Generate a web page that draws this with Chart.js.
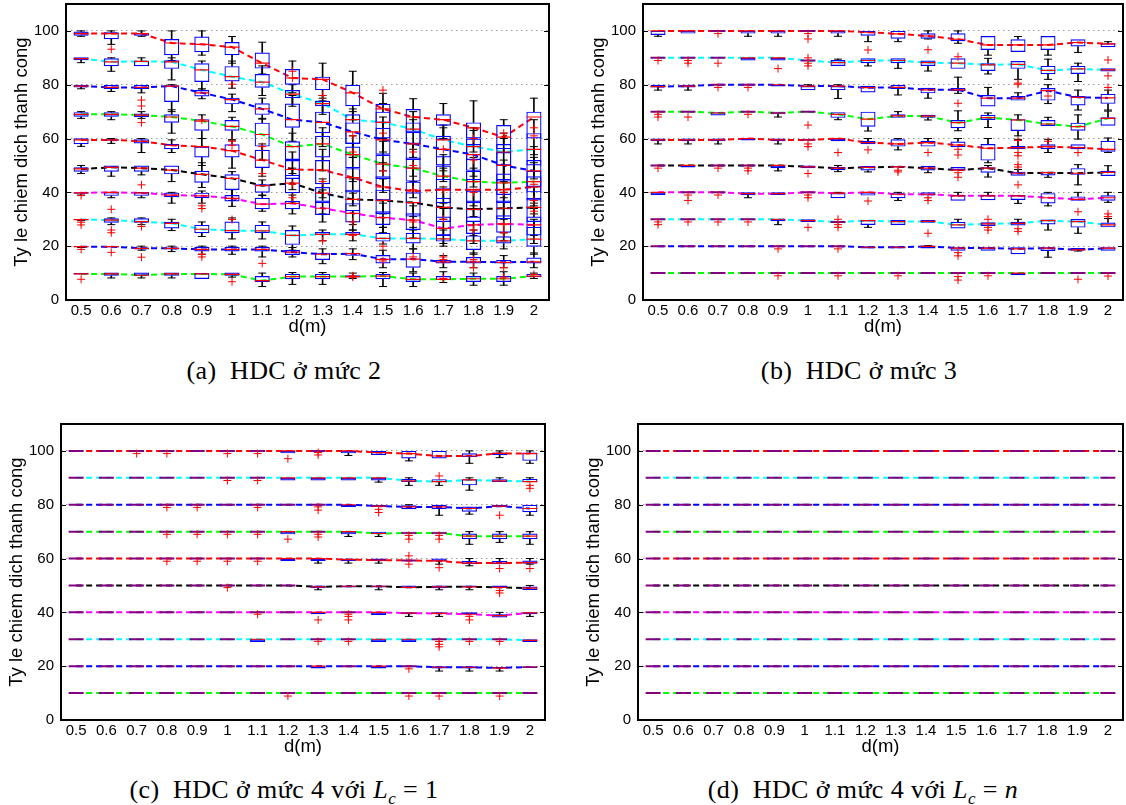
<!DOCTYPE html>
<html>
<head>
<meta charset="utf-8">
<script src="https://cdn.jsdelivr.net/npm/chart.js@4.4.0/dist/chart.umd.min.js"></script>
<style>
  body { margin: 0; background: #fff; width: 1126px; height: 805px; position: relative; overflow: hidden; }
  .panel { position: absolute; }
  .cap { position: absolute; width: 560px; text-align: center; font-family: "Liberation Serif", "DejaVu Serif", serif; font-size: 26px; letter-spacing: 0.4px; color: #000; }
  .cap sub { font-size: 17px; }
</style>
</head>
<body>
<div class="panel" style="left:0px;top:0px"><canvas id="chartA" width="552" height="340"></canvas></div>
<div class="panel" style="left:577px;top:0px"><canvas id="chartB" width="549" height="340"></canvas></div>
<div class="panel" style="left:0px;top:420px"><canvas id="chartC" width="548" height="340"></canvas></div>
<div class="panel" style="left:577px;top:420px"><canvas id="chartD" width="549" height="340"></canvas></div>
<div class="cap" style="left:4px;top:356px">(a)&ensp;HDC ở mức 2</div>
<div class="cap" style="left:579px;top:356px">(b)&ensp;HDC ở mức 3</div>
<div class="cap" style="left:4px;top:775px">(c)&ensp;HDC ở mức 4 với <i>L<sub>c</sub></i> = 1</div>
<div class="cap" style="left:583px;top:775px">(d)&ensp;HDC ở mức 4 với <i>L<sub>c</sub></i> = <i>n</i></div>
<script>
// x categories (distance d in metres) and the target levels of each row of boxes
const dLabels = ['0.5', '0.6', '0.7', '0.8', '0.9', '1', '1.1', '1.2', '1.3', '1.4', '1.5', '1.6', '1.7', '1.8', '1.9', '2'];
const levels = [100, 90, 80, 70, 60, 50, 40, 30, 20, 10];
const lineColors = ['#ff0000', '#00ffff', '#0000ff', '#00ff00', '#ff0000', '#000000', '#ff00ff', '#00ffff', '#0000ff', '#00ff00'];
const yTicks = [0, 20, 40, 60, 80, 100];

// Panel (a): HDC level 2, one row per level, one value per d
const medA = [
  [99, 99, 99, 95.5, 95, 94, 88, 82.5, 82, 77, 71, 68, 67, 64, 60.5, 68],
  [89.7, 88.5, 88.7, 88.5, 85.5, 83, 81, 76.5, 73, 67, 66, 63.5, 59.5, 57, 55, 56],
  [79.5, 79, 79, 79.5, 77, 74.5, 71, 67, 66, 62.5, 59.5, 58, 56, 54, 50, 48],
  [69, 69, 68.7, 68, 66.5, 64.5, 61.5, 57, 58, 54, 50.5, 49, 46, 44, 43.5, 44],
  [59.5, 59.5, 59, 57.5, 57, 55.5, 52, 48.5, 48.3, 45.5, 42, 40.5, 41, 41, 41, 42],
  [48.7, 49.3, 49, 48.3, 46.7, 45.2, 42.5, 43.4, 39.7, 37.4, 37, 36.2, 34.4, 33.7, 34.1, 34.4],
  [39.8, 40, 39.8, 39, 38.7, 37.8, 35.6, 35.9, 34.1, 32.2, 30.6, 29.7, 26.6, 27.9, 28.3, 27.9],
  [29.9, 29.7, 29.1, 28.5, 26.3, 25.8, 25.7, 24, 24.4, 24.4, 22.9, 22.9, 22.7, 22, 22, 22.6],
  [19.8, 19.8, 19.2, 19.2, 18.8, 18.8, 18.8, 17.8, 17, 17.2, 15.1, 15.2, 14.2, 14.2, 14, 14.2],
  [9.7, 9.7, 9.2, 9.7, 9.7, 9.5, 7.2, 8.7, 8.7, 8.7, 8.9, 7.7, 7.7, 7.9, 7.9, 8.9]
];
const q1A = [
  [98.2, 96.9, 98.2, 91, 92.1, 91, 86, 80, 78, 72, 65.8, 62, 64.8, 60, 56, 60],
  [89.1, 86.9, 86.9, 85.9, 81, 81.2, 78.9, 75, 72, 58, 60, 58, 53, 52, 50, 50],
  [79, 78.4, 78.4, 73.6, 75.6, 72.7, 68.8, 64, 62, 58, 54, 52, 50, 48, 44, 42],
  [68.1, 68.1, 68, 65.9, 62.9, 62.9, 57, 52, 53, 49, 45, 44, 41, 40, 39, 40],
  [57.9, 59.2, 58.2, 56, 53, 53, 49.1, 45, 43, 40, 37, 36, 36, 36, 36, 37],
  [47.7, 47.7, 47.7, 46.7, 43.6, 40.9, 39.9, 39.7, 36, 33, 32, 31, 29, 29, 30, 29],
  [39.5, 38.7, 38.7, 38.2, 37.8, 36.6, 33.7, 33.7, 31.6, 28.8, 27.9, 26, 24, 24.5, 25, 24],
  [29.6, 28.7, 28.7, 26.6, 24.8, 24.8, 24.8, 20.5, 24.2, 24.2, 21.7, 21, 21.7, 18.6, 21, 19.8],
  [19.6, 19.5, 18.8, 18.8, 18, 18, 18, 16.7, 14.9, 16.4, 13.6, 12, 13.6, 13.6, 13.6, 13.6],
  [9.5, 9, 9, 9, 7.8, 9, 6.7, 7.7, 7.7, 8.4, 7.7, 6.7, 7.4, 6.7, 6.7, 8.5]
];
const q3A = [
  [99.8, 99.5, 99.3, 97, 97.9, 95.9, 92, 85.8, 83, 80, 72.9, 71, 69, 66, 65, 70],
  [90.2, 89.8, 88.9, 89.1, 88, 86.9, 84, 78, 74, 69, 70, 66, 61, 60, 58, 62],
  [80, 80, 80, 79.8, 78, 75.2, 73.1, 73, 70, 66, 64, 63, 60, 58, 55, 52],
  [69.8, 69.8, 69.3, 69, 67.2, 66.9, 65.9, 59, 61, 57, 54, 53, 50, 48, 47, 48],
  [60.1, 59.7, 59.7, 58, 57, 57.9, 55.8, 52, 52, 49, 46, 44, 45, 45, 45, 46],
  [49.3, 50, 50, 50, 48, 46.7, 43, 46.5, 42, 41, 41, 40, 38, 37, 37, 38],
  [40, 40.1, 40.1, 39.9, 39.9, 39, 38, 36.9, 37, 36, 33, 32.2, 31, 31, 31.5, 31],
  [30, 30.4, 30.4, 29.1, 27.9, 29.2, 27.9, 26, 25.3, 25.3, 25, 25, 24.2, 24, 23.7, 27.2],
  [20, 20, 19.5, 19.5, 19.8, 19.8, 19.8, 18.6, 17.6, 17.6, 16.7, 17.6, 14.9, 16, 14.9, 15.8],
  [10, 10.2, 10.2, 10.2, 10, 10.2, 8.9, 9.7, 9.7, 9.2, 9.7, 8.9, 8.9, 8.9, 8.9, 9.7]
];
const loA = [
  [98, 95, 98, 89, 91, 88, 84, 77, 75, 67, 60, 56, 60, 55, 50, 54],
  [88.2, 85, 86.9, 81.8, 78, 78.7, 76, 72, 69, 54, 55, 53, 48, 46, 44, 45],
  [78.5, 77.5, 77, 70, 74.8, 70, 67.2, 59, 57, 53, 48, 46, 44, 42, 38, 36],
  [67.5, 67, 67.5, 62, 60, 59.5, 52, 47, 48, 44, 40, 38, 36, 35, 34, 35],
  [57.1, 58.2, 54.8, 54.8, 50, 49, 46, 41, 38, 35, 32, 31, 30, 31, 30, 32],
  [47, 46, 46.5, 44, 41.8, 37, 38.8, 36, 32, 28, 27, 26, 24, 24, 25, 24],
  [39, 38, 38, 36, 36, 34.8, 33, 32, 29, 26, 25, 23, 21, 21, 22, 21],
  [29.5, 28, 28, 25.8, 23.6, 22.7, 22.7, 18.5, 22, 22, 20.8, 19, 20, 17, 19, 17],
  [19.5, 19.5, 18.5, 18, 17, 17, 16, 16, 13.5, 15, 12, 10.5, 12, 12, 12, 12],
  [9.5, 8.2, 8.2, 8.2, 7.8, 8.5, 5, 5.8, 5.8, 8, 5, 5, 6.5, 5.5, 5.5, 8]
];
const hiA = [
  [100, 100, 100, 100, 100, 97.9, 95.8, 88.8, 88, 85, 76.8, 74.8, 73, 74, 67, 75],
  [90.2, 90, 90, 90, 88.8, 88.8, 87, 80, 76, 71, 73, 70, 64, 63, 62, 67],
  [80, 80, 80, 80, 78.5, 76.5, 75, 76, 74, 70, 68, 67, 65, 64, 60, 57],
  [70, 70, 70, 70.7, 68.8, 67.9, 67.5, 62, 64, 61, 59, 58, 54, 53, 52, 53],
  [60, 60, 60, 59.5, 60, 59.5, 58, 55, 56, 53, 51, 49, 49, 49, 50, 51],
  [50, 50, 50, 50, 51, 47.7, 44.6, 49, 45, 45, 45, 44, 42, 41, 40, 42],
  [40, 40, 40, 40, 40.5, 41, 39, 39, 40.9, 39.7, 36, 35, 34, 34, 34, 34],
  [30, 30.5, 30.5, 30, 29, 30.5, 29, 27.5, 26, 26, 27, 27, 26, 26, 25, 30],
  [20, 20, 20, 20, 20, 20, 20, 19.5, 19, 19, 18.5, 19, 16.5, 17.5, 16.5, 17.5],
  [10, 10.2, 10.2, 10.2, 10, 10.2, 10, 10.2, 10.2, 10, 10.2, 10, 10.5, 10, 10.5, 10]
];
const outA = [
  ['0.5', 38.8], ['0.5', 28.9], ['0.5', 27.9], ['0.5', 18.8], ['0.5', 7.7],
  ['0.6', 93.2], ['0.6', 33.7], ['0.6', 26], ['0.6', 25], ['0.6', 17.7],
  ['0.7', 74.3], ['0.7', 72.1], ['0.7', 65.9], ['0.7', 42.8], ['0.7', 27.3], ['0.7', 15.9],
  ['0.9', 66.9], ['0.9', 35], ['0.9', 34], ['0.9', 17], ['0.9', 16],
  ['1', 80.2], ['1', 59], ['1', 57.5], ['1', 29.9], ['1', 6.8],
  ['1.1', 57], ['1.1', 47], ['1.1', 13.6],
  ['1.2', 85], ['1.2', 82.5], ['1.2', 43], ['1.2', 38],
  ['1.3', 76], ['1.3', 44], ['1.3', 22],
  ['1.4', 61], ['1.4', 55], ['1.4', 29], ['1.4', 24], ['1.4', 9], ['1.4', 8.5],
  ['1.5', 78], ['1.5', 62], ['1.5', 48], ['1.5', 20], ['1.5', 14.5],
  ['1.6', 55], ['1.6', 50], ['1.6', 41], ['1.6', 29], ['1.6', 16],
  ['1.7', 56], ['1.7', 41], ['1.7', 30], ['1.7', 16], ['1.7', 15], ['1.7', 8],
  ['1.8', 60], ['1.8', 52], ['1.8', 40], ['1.8', 26], ['1.8', 15], ['1.8', 12],
  ['1.9', 62], ['1.9', 40], ['1.9', 28], ['1.9', 25], ['1.9', 12], ['1.9', 8.5],
  ['2', 64], ['2', 61], ['2', 43], ['2', 37], ['2', 33], ['2', 9.5]
];

// Panel (b): HDC level 3. Rows: [level, d, lower whisker, q1, median, q3, upper whisker]
// boxes not listed sit exactly on their level
const boxesB = [
  [100, '0.5', 98, 98.5, 100, 100, 100], [100, '0.6', 99, 99, 100, 100, 100], [100, '0.8', 98, 99, 100, 100, 100],
  [100, '0.9', 98, 99, 100, 100, 100], [100, '1.1', 98, 99, 100, 100, 100], [100, '1.2', 96, 98.2, 99.5, 100, 100],
  [100, '1.3', 96, 97.1, 98.9, 100, 100], [100, '1.4', 97, 97.1, 98.1, 99.1, 100], [100, '1.5', 95.4, 96.2, 96.9, 99.1, 100],
  [100, '1.6', 91, 92.9, 94.8, 98.1, 98.1], [100, '1.7', 92.2, 92.2, 94.8, 96.9, 97.9], [100, '1.8', 91, 92.9, 94.8, 98.1, 98.1],
  [100, '1.9', 92, 94.2, 95.7, 96.9, 96.9], [100, '2', 93.9, 93.9, 95.2, 95.4, 96],
  [90, '0.8', 89, 89, 90, 90, 90], [90, '0.9', 89, 89, 90, 90, 90], [90, '1', 89, 89, 89, 89, 89],
  [90, '1.1', 87, 87, 88.2, 89.2, 89.5], [90, '1.2', 87, 88, 89, 89.8, 89.8], [90, '1.3', 86.1, 88, 89, 89.8, 89.8],
  [90, '1.4', 85.1, 87, 88.2, 89, 89], [90, '1.5', 85.9, 85.9, 88, 89.8, 89.8], [90, '1.6', 84, 85.1, 87.4, 88, 89.8],
  [90, '1.7', 82, 85.9, 87.6, 88.8, 88.8], [90, '1.8', 82, 83.9, 85.3, 87, 89.5], [90, '1.9', 81.2, 84, 85.9, 87, 88],
  [90, '2', 84.9, 84.9, 85.5, 86.1, 86.1],
  [80, '0.5', 78, 79, 79.3, 80, 80], [80, '0.6', 78, 79, 79.5, 80, 80], [80, '0.9', 79.3, 79.3, 80, 80, 80],
  [80, '1', 78, 78, 79.5, 79.5, 80], [80, '1.1', 74.9, 78, 79.5, 79.5, 80], [80, '1.2', 77.1, 77.1, 78.9, 79.6, 79.6],
  [80, '1.3', 76.2, 78.4, 79, 80, 80], [80, '1.4', 75, 76.8, 78.1, 78.9, 78.9], [80, '1.5', 76.8, 77.6, 78.1, 78.8, 82.8],
  [80, '1.6', 71.9, 71.9, 75, 76.2, 79], [80, '1.7', 74.1, 74.1, 75, 75.8, 77], [80, '1.8', 73, 74.1, 77.8, 78.8, 80],
  [80, '1.9', 70.6, 72.3, 75.3, 75.8, 78], [80, '2', 70.6, 72.9, 75.1, 76.6, 78],
  [70, '0.7', 68.6, 68.6, 69.5, 69.8, 69.8], [70, '0.9', 68, 69, 69.5, 70, 70], [70, '1.1', 67, 67.7, 69, 69.8, 69.8],
  [70, '1.2', 62.8, 64.4, 67.2, 70, 70], [70, '1.3', 67.7, 67.7, 68.4, 69, 70], [70, '1.4', 66.9, 67.7, 68.3, 68.8, 68.8],
  [70, '1.5', 62.9, 63.8, 65.9, 66.9, 70.3], [70, '1.6', 64.1, 66.9, 67.8, 68.8, 69.5], [70, '1.7', 61, 62.8, 66.9, 67.2, 68.8],
  [70, '1.8', 64.7, 64.7, 65.4, 66.9, 67.9], [70, '1.9', 59.8, 62.9, 64.4, 65.9, 68.8], [70, '2', 64.8, 64.8, 67.5, 67.9, 70.2],
  [60, '0.5', 58, 59, 59.5, 60, 60], [60, '0.6', 58, 59, 59.5, 60, 60], [60, '0.7', 58, 59, 59.5, 60, 60],
  [60, '0.8', 59.3, 59.3, 60, 60, 60], [60, '0.9', 58, 59, 59.5, 60, 60], [60, '1', 59.2, 59.2, 59.5, 59.9, 59.9],
  [60, '1.1', 59, 59, 60, 60, 60], [60, '1.2', 57.9, 57.9, 58.5, 59.2, 60], [60, '1.3', 55.8, 57, 58, 59.7, 60],
  [60, '1.4', 57, 57, 58.5, 59.2, 60], [60, '1.5', 56.8, 56.8, 57.6, 58.9, 60], [60, '1.6', 51, 51.8, 56.4, 58, 60],
  [60, '1.7', 56, 56, 56.6, 57.2, 59.7], [60, '1.8', 54.8, 56, 57, 57.9, 59.7], [60, '1.9', 56, 56, 56.6, 57.9, 57.9],
  [60, '2', 54.8, 55.1, 56, 59.2, 60.2],
  [50, '0.6', 49.2, 49.2, 50, 50, 50], [50, '0.9', 48, 49, 50, 50, 50], [50, '1', 49, 49, 49.5, 50, 50],
  [50, '1.1', 47.7, 48.2, 49, 49.4, 50], [50, '1.2', 47.6, 48.1, 49.3, 49.8, 49.8], [50, '1.3', 49.2, 49.2, 49.5, 49.8, 49.8],
  [50, '1.4', 47.3, 48.1, 49, 49.9, 49.9], [50, '1.5', 48.2, 48.2, 48.3, 49.4, 49.4], [50, '1.6', 45.7, 47.3, 49, 49.3, 50],
  [50, '1.7', 46.2, 46.2, 47.1, 47.7, 48.5], [50, '1.8', 45.6, 46.3, 47.3, 47.7, 47.7], [50, '1.9', 42.8, 46.5, 47.1, 49, 50.3],
  [50, '2', 46.1, 46.1, 47.4, 48, 49.9],
  [40, '0.5', 39, 39, 40, 40, 40], [40, '0.8', 38, 39, 39.5, 40, 40], [40, '0.9', 39, 39, 39.5, 40, 40],
  [40, '1.1', 37.8, 37.8, 39.7, 39.7, 40], [40, '1.2', 38.8, 38.8, 40, 40, 40], [40, '1.3', 37, 37.8, 39.3, 39.7, 40],
  [40, '1.4', 38.8, 38.8, 39.3, 40, 40], [40, '1.5', 36.9, 36.9, 38.7, 39, 40], [40, '1.6', 37.1, 37.1, 38.7, 39, 40],
  [40, '1.7', 35.9, 37.2, 38.7, 39, 39], [40, '1.8', 35, 35.9, 38, 39.7, 40], [40, '1.9', 36.9, 36.9, 37.4, 38.5, 40],
  [40, '2', 36.3, 36.9, 38, 38.9, 40],
  [30, '0.9', 28, 29.3, 30, 30, 30], [30, '1', 29, 29, 29.5, 30, 30], [30, '1.1', 29, 29, 29, 29, 29],
  [30, '1.2', 27, 27.9, 29.5, 29.7, 29.7], [30, '1.3', 27.9, 27.9, 29.1, 29.7, 29.7], [30, '1.4', 28.7, 28.7, 29.2, 29.7, 29.7],
  [30, '1.5', 26.6, 26.6, 27.9, 29.1, 30], [30, '1.6', 27.5, 27.5, 28.3, 28.9, 28.9], [30, '1.7', 27.7, 27.7, 28.5, 29.1, 30],
  [30, '1.8', 26, 28.1, 29.5, 29.9, 29.9], [30, '1.9', 24.8, 26.9, 29.1, 30.1, 30.1], [30, '2', 27, 27, 27.9, 28.8, 30.3],
  [20, '1.2', 19.1, 19.1, 19.6, 20, 20], [20, '1.3', 19.1, 19.1, 19.6, 20, 20], [20, '1.4', 19.1, 19.1, 19.9, 20, 20.2],
  [20, '1.5', 18.3, 18.3, 19.3, 19.6, 19.6], [20, '1.6', 18.3, 18.3, 19.3, 19.6, 19.6], [20, '1.7', 17, 17, 19, 19.6, 19.6],
  [20, '1.8', 15.9, 18.2, 19.3, 19.6, 19.6], [20, '1.9', 18.2, 18.6, 18.6, 19.3, 19.3], [20, '2', 18.3, 18.3, 19.3, 19.6, 19.6],
  [10, '1.7', 9.2, 9.2, 10, 10, 10]
];
const outB = [
  ['0.7', 99], ['1', 99], ['1', 97], ['1.2', 92.9], ['1.4', 93],
  ['0.5', 89], ['0.6', 89], ['0.6', 88], ['0.7', 88], ['0.9', 86], ['1', 90], ['1', 88], ['1', 87], ['1.5', 90.4], ['1.7', 80.2], ['2', 89.2], ['2', 83.3],
  ['0.7', 79], ['0.8', 79], ['1.5', 73.1], ['1.7', 80.6], ['1.8', 75.8], ['2', 79],
  ['0.5', 69], ['0.5', 68], ['0.6', 68], ['0.8', 69], ['1', 65],
  ['1', 58], ['1', 57], ['1.1', 54.8], ['1.2', 55.8], ['1.4', 54.8], ['1.5', 56], ['1.5', 53.9], ['1.7', 59.3], ['1.7', 54.8], ['1.7', 53.6], ['1.8', 59], ['1.9', 54.8],
  ['0.5', 49], ['0.7', 49], ['0.8', 49], ['0.8', 48], ['1', 47], ['1.3', 48.2], ['1.3', 47.6], ['1.5', 47.3], ['1.5', 45.6], ['1.7', 50.3], ['1.7', 49.4], ['1.7', 42.8],
  ['0.6', 39], ['0.6', 37], ['0.7', 39], ['1', 39], ['1', 38], ['1.2', 36.8], ['1.4', 38], ['1.4', 37], ['1.9', 32.8],
  ['0.5', 29], ['0.5', 28], ['0.6', 29], ['0.7', 29], ['0.8', 29], ['1', 27], ['1.1', 30], ['1.1', 28], ['1.1', 27], ['1.4', 24.8], ['1.6', 30], ['1.6', 27], ['1.6', 26], ['1.7', 26.5], ['1.7', 25.5], ['2', 32], ['2', 31],
  ['0.9', 19], ['1.1', 19], ['1.5', 17.6], ['1.5', 16.4],
  ['0.9', 9], ['1.1', 9], ['1.3', 9], ['1.5', 8.7], ['1.5', 7.4], ['1.6', 9], ['1.9', 7.7], ['2', 8.9]
];

// Panel (c): HDC level 4 with Lc = 1
const boxesC = [
  [100, '1.2', 99.1, 99.1, 100, 100, 100], [100, '1.4', 98.3, 99.1, 100, 100, 100], [100, '1.5', 98.5, 98.5, 99.4, 100, 100],
  [100, '1.6', 96.3, 97.2, 99, 100, 100], [100, '1.7', 97.2, 97.2, 98.1, 100, 100], [100, '1.8', 95.4, 97.7, 98.1, 99.1, 100],
  [100, '1.9', 97.5, 98.5, 99.1, 99.4, 100], [100, '2', 95.4, 96.3, 99, 99.4, 100],
  [90, '1.2', 89, 89, 90, 90, 90], [90, '1.3', 89, 89, 90, 90, 90], [90, '1.4', 89, 89, 90, 90, 90],
  [90, '1.5', 88.4, 89, 90, 90, 90], [90, '1.6', 87.2, 88.4, 88.9, 89.6, 90], [90, '1.7', 87.2, 88.4, 88.6, 89.5, 89.5],
  [90, '1.8', 85.4, 87.2, 89.2, 89.5, 90], [90, '1.9', 88.4, 88.4, 88.9, 89.5, 90], [90, '2', 88.4, 88.4, 88.6, 89.6, 90],
  [80, '1.4', 79.2, 79.2, 80, 80, 80], [80, '1.5', 79.2, 79.2, 79.5, 80, 80], [80, '1.6', 78.3, 78.3, 79.2, 79.8, 80],
  [80, '1.7', 76.1, 78.3, 79.2, 80, 80], [80, '1.8', 76.5, 77.4, 78.6, 79.3, 79.3], [80, '1.9', 79.2, 79.2, 79.5, 80, 80],
  [80, '2', 76.1, 77.2, 78.6, 80, 80],
  [70, '1.2', 69, 69, 70, 70, 70], [70, '1.4', 68.2, 69, 70, 70, 70], [70, '1.5', 68.2, 69, 69.3, 70, 70],
  [70, '1.6', 69, 69, 69.5, 70, 70], [70, '1.7', 69, 69, 69.5, 70, 70], [70, '1.8', 65.3, 67.2, 68.3, 69.3, 70],
  [70, '1.9', 66, 67.2, 68.3, 69.3, 70], [70, '2', 65.3, 67.2, 68.3, 69.3, 70],
  [60, '1.2', 59.1, 59.1, 60, 60, 60], [60, '1.3', 58.3, 59.1, 60, 60, 60], [60, '1.4', 58.3, 59.1, 59.6, 60, 60],
  [60, '1.5', 58.3, 59.1, 59.4, 60, 60], [60, '1.6', 59.3, 59.3, 59.3, 59.3, 59.3], [60, '1.7', 57.9, 58.9, 59.1, 60, 60],
  [60, '1.8', 57.3, 57.9, 58.3, 59.1, 60], [60, '1.9', 57.9, 57.9, 58.3, 59.1, 60], [60, '2', 57.9, 58.1, 58.5, 59.3, 60],
  [50, '1.3', 48.4, 49, 49.5, 50, 50], [50, '1.4', 49.2, 49.2, 49.7, 50, 50], [50, '1.5', 48.4, 49.2, 49.7, 50, 50],
  [50, '1.6', 49, 49, 49.3, 50, 50], [50, '1.7', 48.4, 49, 49.5, 50, 50], [50, '1.8', 48.4, 49.2, 49.5, 50, 50],
  [50, '1.9', 49.2, 49.2, 49.3, 50, 50], [50, '2', 48.3, 48.3, 49, 49.6, 50],
  [40, '1.3', 39.3, 39.3, 40, 40, 40], [40, '1.5', 39, 39, 40, 40, 40], [40, '1.6', 38.5, 39.3, 39.7, 40, 40],
  [40, '1.7', 38.5, 39.3, 39.6, 40, 40], [40, '1.8', 39.3, 39.3, 39.3, 40, 40], [40, '1.9', 38.1, 38.1, 38.8, 39.3, 40],
  [40, '2', 38.5, 39.3, 39.8, 40, 40],
  [30, '1.1', 29, 29, 30, 30, 30], [30, '1.5', 29, 29, 30, 30, 30], [30, '1.6', 29, 29, 30, 30, 30], [30, '2', 29, 29, 29.6, 30, 30],
  [20, '1.3', 19.1, 19.1, 20, 20, 20], [20, '1.5', 19.1, 19.1, 20, 20, 20], [20, '1.7', 18.2, 19.1, 19.6, 20, 20],
  [20, '1.8', 18.2, 19.1, 19.6, 20, 20], [20, '1.9', 18.2, 19.1, 19.3, 19.7, 19.7], [20, '2', 19.3, 19.3, 19.7, 20, 20]
];
const outC = [
  ['0.7', 99], ['0.8', 99], ['1', 99], ['1.1', 99], ['1.2', 97.1], ['1.3', 99.4], ['1.3', 98.5],
  ['1', 89], ['1.1', 89], ['1.7', 90.7], ['2', 87.2], ['2', 86.1],
  ['0.8', 79], ['0.9', 79], ['1.1', 79], ['1.3', 79.2], ['1.3', 78], ['1.5', 78.3], ['1.5', 77.1], ['1.9', 76.1],
  ['0.8', 69], ['0.9', 69], ['1', 69], ['1.1', 69], ['1.2', 67.2], ['1.3', 69], ['1.3', 68], ['1.6', 68.6], ['1.6', 67.2], ['1.7', 68.6], ['1.7', 67.2],
  ['0.8', 59], ['0.9', 59], ['1', 59], ['1.1', 59], ['1.6', 61], ['1.6', 57.9], ['1.7', 56.6], ['1.9', 56.3], ['2', 56.3],
  ['1', 49.2], ['1.9', 48.1], ['1.9', 47.2],
  ['1.1', 39.3], ['1.3', 37.2], ['1.4', 39.3], ['1.4', 38.5], ['1.4', 37.2], ['1.8', 38.5], ['1.8', 37.2],
  ['1.3', 29.2], ['1.4', 29.2], ['1.7', 29.2], ['1.7', 28.1], ['1.7', 27.2], ['1.8', 29.2], ['1.9', 29.2],
  ['1.6', 19],
  ['1.2', 8.9], ['1.6', 8.9], ['1.7', 8.9], ['1.9', 8.9]
];

// Panel (d): HDC level 4 with Lc = n, every run hits its level
const boxesD = [];
const outD = [];

Chart.defaults.font.family = '"Liberation Sans", Arial, sans-serif';
Chart.defaults.color = '#000';

// turns the row lists into one array per level for each statistic
function fromRows(rows) {
  const st = { med: [], q1: [], q3: [], lo: [], hi: [] };
  levels.forEach(lv => Object.keys(st).forEach(k => st[k].push(dLabels.map(() => lv))));
  rows.forEach(([lv, x, lo, q1, med, q3, hi]) => {
    const k = levels.indexOf(lv), i = dLabels.indexOf(x);
    st.lo[k][i] = lo; st.q1[k][i] = q1; st.med[k][i] = med; st.q3[k][i] = q3; st.hi[k][i] = hi;
  });
  return st;
}

// every box plot is made of bars (box, whisker stems) and point markers (median, caps, outliers)
function boxDatasets(st, outliers) {
  const ds = [];
  levels.forEach((lv, k) => {
    const med = st.med[k], q1 = st.q1[k], q3 = st.q3[k], lo = st.lo[k], hi = st.hi[k];
    const flat = med.map((v, i) => !(q3[i] > q1[i]));
    ds.push({ type: 'line', data: med, borderColor: lineColors[k], borderWidth: 2, borderDash: [6, 4],
      pointRadius: 0, order: 10 });
    ds.push({ type: 'bar', data: q1.map((v, i) => lo[i] < v ? [lo[i], v] : null), backgroundColor: '#000',
      barThickness: 1, grouped: false, order: 8 });
    ds.push({ type: 'bar', data: q3.map((v, i) => hi[i] > v ? [v, hi[i]] : null), backgroundColor: '#000',
      barThickness: 1, grouped: false, order: 8 });
    ds.push({ type: 'line', showLine: false, data: lo.map((v, i) => v < q1[i] ? v : null), pointStyle: 'line',
      pointRadius: 4, pointBorderColor: '#000', pointBorderWidth: 1, order: 7 });
    ds.push({ type: 'line', showLine: false, data: hi.map((v, i) => v > q3[i] ? v : null), pointStyle: 'line',
      pointRadius: 4, pointBorderColor: '#000', pointBorderWidth: 1, order: 7 });
    ds.push({ type: 'bar', data: q1.map((v, i) => flat[i] ? null : [v, q3[i]]), borderColor: '#0000ff',
      borderWidth: 1.2, backgroundColor: 'rgba(0,0,0,0)', borderSkipped: false, grouped: false,
      barPercentage: 0.5, categoryPercentage: 1, order: 6 });
    ds.push({ type: 'line', showLine: false, data: med, pointStyle: 'line', pointRadius: 7.5,
      pointBorderColor: flat.map(f => f ? '#800080' : '#ff0000'), pointBorderWidth: flat.map(f => f ? 2 : 1.2), order: 5 });
  });
  ds.push({ type: 'line', showLine: false, data: outliers.map(o => ({ x: o[0], y: o[1] })), pointStyle: 'cross',
    pointRadius: 4, pointBorderColor: '#ff0000', pointBorderWidth: 1, order: 1 });
  return ds;
}

// black frame round the axes with inward ticks on both sides
const framePlugin = {
  id: 'frame',
  afterDraw(chart) {
    const { ctx, chartArea: a, scales: { y } } = chart;
    ctx.save();
    ctx.strokeStyle = '#000';
    ctx.lineWidth = 1;
    y.ticks.forEach(t => {
      const py = Math.round(y.getPixelForValue(t.value)) + 0.5;
      ctx.beginPath();
      ctx.moveTo(a.left, py); ctx.lineTo(a.left + 5, py);
      ctx.moveTo(a.right, py); ctx.lineTo(a.right - 5, py);
      ctx.stroke();
    });
    ctx.lineWidth = 2;
    ctx.strokeRect(a.left, a.top, a.right - a.left, a.bottom - a.top);
    ctx.restore();
  }
};

function makeChart(id, st, outliers, yWidth, titlePad) {
  const canvas = document.getElementById(id);
  return new Chart(canvas.getContext('2d'), {
    type: 'bar',
    data: { labels: dLabels, datasets: boxDatasets(st, outliers) },
    options: {
      responsive: false,
      animation: false,
      events: [],
      layout: { autoPadding: false, padding: { top: 4, right: 3, left: 0, bottom: 0 } },
      plugins: { legend: { display: false }, tooltip: { enabled: false } },
      scales: {
        x: {
          type: 'category',
          grid: { display: false, drawTicks: false },
          border: { display: false },
          ticks: { font: { size: 15 }, color: '#000', padding: 2, maxRotation: 0, autoSkip: false },
          title: { display: true, text: 'd(m)', font: { size: 18.5 }, color: '#000', padding: { top: 0, bottom: 2 } },
          afterFit: s => { s.height = 40; s.paddingLeft = 0; s.paddingRight = 0; }
        },
        y: {
          min: 0, max: 110,
          afterBuildTicks: s => { s.ticks = yTicks.map(v => ({ value: v })); },
          grid: { color: '#9a9a9a', lineWidth: 1, drawTicks: false },
          border: { display: false, dash: [1.5, 3.5] },
          ticks: { font: { size: 15 }, color: '#000', padding: 7 },
          title: { display: true, text: 'Ty le chiem dich thanh cong', font: { size: 18.5 }, color: '#000',
            padding: { top: titlePad, bottom: 0 } },
          afterFit: s => { s.width = yWidth; s.paddingTop = 0; s.paddingBottom = 0; }
        }
      }
    },
    plugins: [framePlugin]
  });
}

makeChart('chartA', { med: medA, q1: q1A, q3: q3A, lo: loA, hi: hiA }, outA, 66, 11);
makeChart('chartB', fromRows(boxesB), outB, 66, 11);
makeChart('chartC', fromRows(boxesC), outC, 61, 6);
makeChart('chartD', fromRows(boxesD), outD, 61, 6);
</script>
</body>
</html>
